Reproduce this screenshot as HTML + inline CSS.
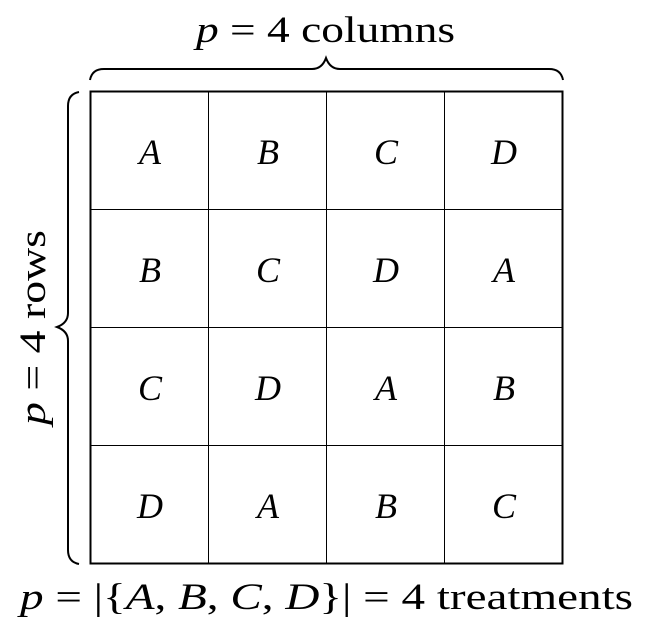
<!DOCTYPE html>
<html><head><style>
html,body{margin:0;padding:0;background:#fff;}
svg{display:block;}
text{font-family:"Liberation Serif",serif;fill:#000;}
</style></head><body>
<svg width="646" height="634" viewBox="0 0 646 634" xmlns="http://www.w3.org/2000/svg">
<g stroke="#000" stroke-width="1" fill="none">
<line x1="208.5" y1="91" x2="208.5" y2="563"/>
<line x1="326.5" y1="91" x2="326.5" y2="563"/>
<line x1="444.5" y1="91" x2="444.5" y2="563"/>
<line x1="90" y1="209.5" x2="563" y2="209.5"/>
<line x1="90" y1="327.5" x2="563" y2="327.5"/>
<line x1="90" y1="445.5" x2="563" y2="445.5"/>
</g>
<rect x="90.5" y="91.5" width="472" height="472" fill="none" stroke="#000" stroke-width="2"/>
<g stroke="#000" stroke-width="2" fill="none">
<path d="M90 80 Q92 69 104 69 L312 69 Q322 69 326 58 Q330 69 340 69 L549 69 Q561 69 563 80"/>
<path d="M79 92 Q68 94 68 106 L68 313 Q68 323 57 327 Q68 331 68 341 L68 550 Q68 562 79 564"/>
</g>
<g font-size="36" font-style="italic" text-anchor="middle">
<text x="150" y="164">A</text><text x="268" y="164">B</text><text x="386" y="164">C</text><text x="504" y="164">D</text>
<text x="150" y="282">B</text><text x="268" y="282">C</text><text x="386" y="282">D</text><text x="504" y="282">A</text>
<text x="150" y="400">C</text><text x="268" y="400">D</text><text x="386" y="400">A</text><text x="504" y="400">B</text>
<text x="150" y="518">D</text><text x="268" y="518">A</text><text x="386" y="518">B</text><text x="504" y="518">C</text>
</g>
<text x="196" y="42" font-size="37" textLength="259" lengthAdjust="spacingAndGlyphs"><tspan font-style="italic">p</tspan> = 4 columns</text>
<text x="20" y="609" font-size="37" textLength="613" lengthAdjust="spacingAndGlyphs"><tspan font-style="italic">p</tspan> = |{<tspan font-style="italic">A</tspan>, <tspan font-style="italic">B</tspan>, <tspan font-style="italic">C</tspan>, <tspan font-style="italic">D</tspan>}| = 4 treatments</text>
<text transform="translate(45,425) rotate(-90)" font-size="37" textLength="195" lengthAdjust="spacingAndGlyphs"><tspan font-style="italic">p</tspan> = 4 rows</text>
</svg>
</body></html>
